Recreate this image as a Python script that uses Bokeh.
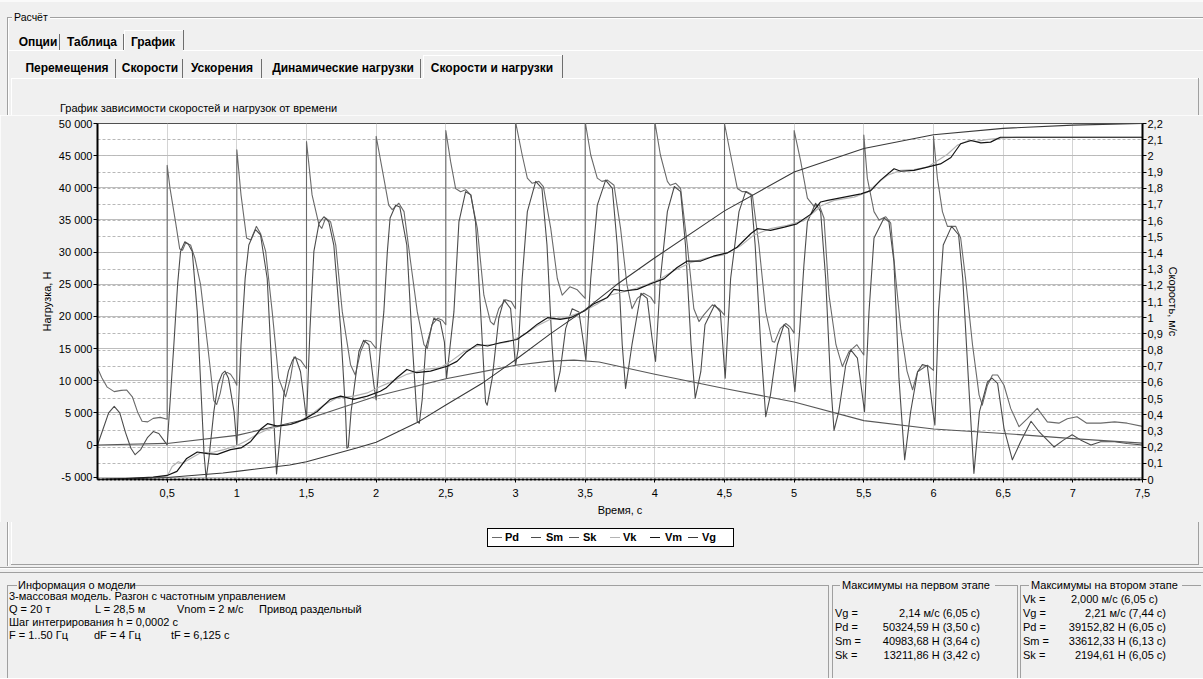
from bokeh.plotting import figure
from bokeh.models import (Range1d, LinearAxis, FixedTicker, Grid, Div)
from bokeh.layouts import column
from bokeh.embed import file_html
from bokeh.resources import INLINE

# ---------------- data ----------------
time_ticks = [0.5, 1, 1.5, 2, 2.5, 3, 3.5, 4, 4.5, 5, 5.5, 6, 6.5, 7, 7.5]
time_labels = ["0,5", "1", "1,5", "2", "2,5", "3", "3,5", "4", "4,5", "5", "5,5", "6", "6,5", "7", "7,5"]
load_ticks = [-5000, 0, 5000, 10000, 15000, 20000, 25000, 30000, 35000, 40000, 45000, 50000]
load_labels = ["-5 000", "0", "5 000", "10 000", "15 000", "20 000", "25 000", "30 000",
               "35 000", "40 000", "45 000", "50 000"]
speed_ticks = [0, 0.1, 0.2, 0.3, 0.4, 0.5, 0.6, 0.7, 0.8, 0.9, 1, 1.1, 1.2, 1.3, 1.4, 1.5,
               1.6, 1.7, 1.8, 1.9, 2, 2.1, 2.2]
speed_labels = ["0", "0,1", "0,2", "0,3", "0,4", "0,5", "0,6", "0,7", "0,8", "0,9", "1", "1,1",
                "1,2", "1,3", "1,4", "1,5", "1,6", "1,7", "1,8", "1,9", "2", "2,1", "2,2"]

# Pd, N
pd_t = [0.0, 0.03, 0.07, 0.12, 0.17, 0.21, 0.25, 0.29, 0.32, 0.36, 0.40, 0.45, 0.5,
        0.5, 0.52, 0.56, 0.59, 0.61, 0.632, 0.668, 0.70, 0.74, 0.79, 0.835, 0.855, 0.88, 0.907, 0.93, 0.955, 0.98, 1.0,
        1.0, 1.03, 1.07, 1.1, 1.14, 1.17, 1.207, 1.254, 1.30, 1.35, 1.385, 1.41, 1.457, 1.5,
        1.5, 1.54, 1.59, 1.61, 1.637, 1.673, 1.71, 1.757, 1.816, 1.85, 1.888, 1.924, 1.96, 2.0,
        2.0, 2.055, 2.09, 2.115, 2.163, 2.2, 2.247, 2.295, 2.343, 2.367, 2.40, 2.44, 2.475, 2.5,
        2.5, 2.534, 2.57, 2.606, 2.642, 2.678, 2.726, 2.773, 2.82, 2.845, 2.88, 2.93, 2.97, 3.0,
        3.0, 3.048, 3.085, 3.12, 3.168, 3.2, 3.253, 3.3, 3.335, 3.39, 3.44, 3.5,
        3.5, 3.54, 3.587, 3.62, 3.66, 3.707, 3.754, 3.8, 3.836, 3.874, 3.92, 3.97, 4.0,
        4.0, 4.04, 4.09, 4.11, 4.15, 4.185, 4.233, 4.28, 4.317, 4.35, 4.413, 4.46, 4.5,
        4.5, 4.544, 4.592, 4.628, 4.66, 4.7, 4.747, 4.796, 4.843, 4.86, 4.9, 4.94, 4.97, 5.0,
        5.0, 5.047, 5.095, 5.142, 5.178, 5.214, 5.25, 5.3, 5.346, 5.393, 5.45, 5.5,
        5.5, 5.525, 5.573, 5.609, 5.657, 5.693, 5.729, 5.765, 5.81, 5.85, 5.886, 5.956, 6.0,
        6.0, 6.028, 6.064, 6.1, 6.16, 6.195, 6.23, 6.28, 6.327, 6.35, 6.387, 6.423, 6.46, 6.506,
        6.554, 6.614, 6.674, 6.745, 6.817, 6.9, 6.96, 7.03, 7.1, 7.2, 7.3, 7.39, 7.5]
pd_v = [12000, 10500, 9000, 8300, 8500, 8550, 7500, 5000, 3700, 3600, 4150, 4300, 4000,
        43500, 40000, 34700, 30500, 30300, 31400, 31100, 29000, 24900, 15600, 6900, 6300, 8000, 10900, 11300, 11000, 10200, 9300,
        45900, 38900, 32200, 31900, 34000, 32900, 30100, 20700, 10400, 7500, 10400, 13700, 13200, 11900,
        47200, 38900, 34200, 33700, 35300, 34700, 31100, 20700, 12500, 10900, 14500, 16300, 16100, 15000,
        48000, 41500, 37300, 36600, 37600, 36300, 28500, 20700, 15600, 15000, 18700, 19700, 19400, 18700,
        48900, 44100, 39900, 39400, 39700, 38900, 33700, 23300, 19200, 18700, 21200, 22600, 22300, 21200,
        50300, 45100, 41500, 40700, 41000, 40200, 33700, 25900, 23300, 24600, 24200, 22800,
        50300, 45100, 41500, 41000, 41200, 40400, 33700, 24900, 21200, 22800, 23600, 23000, 22000,
        50300, 45100, 41000, 40400, 40700, 39900, 31100, 21200, 19200, 20200, 21800, 21200, 20200,
        50000, 45100, 39900, 39400, 39400, 38900, 31100, 20700, 16100, 16000, 18100, 18900, 18400, 17400,
        48900, 44100, 38400, 37100, 37400, 35300, 23300, 15600, 12200, 14500, 15600, 14000,
        48200, 41500, 36300, 35000, 35500, 34500, 25900, 18100, 11500, 8600, 11400, 12400, 11600,
        48000, 41500, 36300, 34000, 34000, 32200, 25900, 15600, 7800, 6200, 9300, 10900, 10900, 9300,
        5700, 2850, 4100, 5700, 3600, 3400, 4100, 4400, 3400, 3400, 3600, 3400, 2900]

# Sm, N
sm_t = [0.0, 0.04, 0.08, 0.12, 0.16, 0.2, 0.24, 0.27, 0.31, 0.36, 0.40, 0.44, 0.48, 0.5,
        0.525, 0.548, 0.575, 0.596, 0.627, 0.65, 0.68, 0.716, 0.75, 0.765, 0.78, 0.80, 0.835, 0.865, 0.895, 0.915, 0.94, 0.98, 1.0,
        1.03, 1.06, 1.086, 1.134, 1.17, 1.218, 1.254, 1.27, 1.285, 1.30, 1.337, 1.37, 1.40, 1.42, 1.457, 1.48, 1.5,
        1.525, 1.553, 1.59, 1.625, 1.66, 1.696, 1.745, 1.78, 1.79, 1.80, 1.82, 1.876, 1.91, 1.948, 1.984, 2.0,
        2.03, 2.055, 2.08, 2.1, 2.14, 2.17, 2.22, 2.26, 2.295, 2.31, 2.33, 2.355, 2.414, 2.46, 2.49, 2.505,
        2.558, 2.594, 2.642, 2.68, 2.713, 2.75, 2.785, 2.797, 2.833, 2.88, 2.917, 2.965, 3.0,
        3.02, 3.048, 3.085, 3.145, 3.19, 3.226, 3.262, 3.286, 3.32, 3.36, 3.407, 3.455, 3.49, 3.505,
        3.54, 3.587, 3.647, 3.695, 3.73, 3.766, 3.79, 3.836, 3.9, 3.945, 3.98, 4.005,
        4.04, 4.09, 4.14, 4.185, 4.22, 4.26, 4.29, 4.33, 4.36, 4.43, 4.47, 4.505,
        4.544, 4.604, 4.652, 4.69, 4.72, 4.76, 4.796, 4.83, 4.88, 4.927, 4.96, 5.005,
        5.04, 5.07, 5.095, 5.154, 5.19, 5.226, 5.26, 5.286, 5.32, 5.37, 5.406, 5.454, 5.505,
        5.537, 5.573, 5.645, 5.68, 5.716, 5.752, 5.793, 5.836, 5.886, 5.92, 5.956, 5.99, 6.01,
        6.036, 6.07, 6.13, 6.18, 6.21, 6.25, 6.29, 6.33, 6.387, 6.42, 6.46, 6.506, 6.566, 6.625,
        6.7, 6.757, 6.865, 6.935, 6.995, 7.055, 7.13, 7.2, 7.3, 7.39, 7.5]
sm_v = [0, 2500, 5000, 6000, 5000, 2000, -500, -1500, -700, 1200, 2100, 1800, 600, 0,
        8000, 15600, 25000, 30100, 31600, 31300, 30100, 20700, 5200, -1500, -5200, -2000, 5200, 9500, 11100, 11500, 10400, 5200, 0,
        15600, 26000, 31100, 33500, 32700, 25900, 10400, 2000, -4500, -1000, 7800, 11500, 13200, 13700, 11400, 7500, 4000,
        18000, 30100, 34500, 35500, 34700, 31100, 18100, 5200, -500, -300, 5200, 14500, 16300, 15600, 9300, 7000,
        15000, 20700, 30000, 35300, 37300, 37000, 31100, 15600, 3600, 3400, 7000, 15000, 19700, 19200, 16000, 10400,
        20700, 34700, 39400, 38900, 34700, 20700, 6700, 6200, 10400, 19700, 22600, 21200, 12400,
        15000, 25900, 36300, 41000, 39900, 31100, 15600, 8300, 11400, 18100, 21200, 20700, 15600, 13200,
        25900, 37300, 41200, 39900, 31100, 15600, 8800, 15600, 23600, 22800, 16600, 13000,
        25900, 36300, 40200, 39400, 31100, 15600, 7300, 11400, 18700, 21800, 20700, 10400,
        25900, 36300, 39400, 38900, 31100, 15600, 4400, 7800, 15600, 18700, 18100, 8300,
        18000, 28000, 34700, 37600, 36300, 25900, 10400, 2300, 5200, 12400, 14800, 13500, 5200,
        20700, 32200, 35300, 34700, 28500, 10400, -2300, 5200, 11400, 12500, 12300, 6200, 3100,
        20700, 31100, 34000, 32700, 25900, 10400, -4400, 5200, 9800, 10400, 9600, 2600, -2300, 500,
        3700, 2100, -300, 800, 1600, 800, 0, 500, 500, 250, 0]

# Sk, N
sk_t = [0.0, 0.5, 1.0, 1.5, 2.0, 2.5, 3.0, 3.25, 3.42, 3.6, 4.0, 4.5, 5.0, 5.5, 6.0, 6.5, 7.0, 7.5]
sk_v = [0, 250, 1500, 4000, 7600, 10300, 12400, 13050, 13200, 12900, 11000, 8800, 6700, 3800,
        2500, 1800, 1000, 300]

# Vk, m/s
vk_t = [0.0, 0.3, 0.5, 0.536, 0.58, 0.608, 0.668, 0.74, 0.835, 0.907, 1.0, 1.07, 1.146, 1.22,
        1.31, 1.43, 1.53, 1.625, 1.72, 1.84, 1.936, 2.03, 2.1, 2.22, 2.34, 2.46, 2.535, 2.63,
        2.725, 2.845, 2.965, 3.06, 3.157, 3.25, 3.36, 3.49, 3.587, 3.68, 3.8, 3.92, 4.04, 4.135,
        4.257, 4.377, 4.5, 4.616, 4.71, 4.83, 4.95, 5.07, 5.167, 5.19, 5.286, 5.43, 5.525, 5.597,
        5.67, 5.765, 5.86, 5.956, 6.028, 6.1, 6.17, 6.25, 6.31, 6.38, 6.48, 6.6, 7.5]
vk_v = [0.0, 0.005, 0.02, 0.08, 0.11, 0.10, 0.13, 0.165, 0.17, 0.185, 0.21, 0.24, 0.28, 0.31,
        0.33, 0.35, 0.40, 0.46, 0.505, 0.515, 0.535, 0.575, 0.60, 0.65, 0.68, 0.69, 0.73, 0.79,
        0.825, 0.835, 0.855, 0.895, 0.95, 0.99, 1.0, 1.04, 1.085, 1.14, 1.165, 1.195, 1.24, 1.29,
        1.34, 1.37, 1.39, 1.445, 1.51, 1.55, 1.57, 1.60, 1.67, 1.69, 1.725, 1.745, 1.775, 1.83,
        1.88, 1.91, 1.915, 1.93, 1.97, 2.01, 2.065, 2.095, 2.09, 2.10, 2.11, 2.115, 2.115]

# Vm, m/s
vm_t = [0.0, 0.2, 0.4, 0.5, 0.57, 0.64, 0.716, 0.79, 0.86, 0.955, 1.03, 1.1, 1.17, 1.22, 1.29,
        1.385, 1.48, 1.577, 1.67, 1.745, 1.84, 1.936, 2.03, 2.07, 2.15, 2.22, 2.29, 2.39, 2.51,
        2.58, 2.65, 2.725, 2.8, 2.89, 3.01, 3.085, 3.157, 3.23, 3.32, 3.395, 3.49, 3.56, 3.66,
        3.706, 3.78, 3.874, 3.97, 4.065, 4.16, 4.233, 4.33, 4.42, 4.52, 4.59, 4.69, 4.736, 4.83,
        4.93, 5.02, 5.12, 5.19, 5.24, 5.36, 5.48, 5.55, 5.62, 5.717, 5.765, 5.86, 5.956, 6.05,
        6.125, 6.195, 6.27, 6.34, 6.41, 6.48, 6.6, 7.0, 7.5]
vm_v = [0.0, 0.005, 0.015, 0.025, 0.05, 0.13, 0.17, 0.16, 0.155, 0.185, 0.195, 0.235, 0.31,
        0.345, 0.33, 0.34, 0.37, 0.42, 0.495, 0.515, 0.495, 0.515, 0.545, 0.565, 0.63, 0.68,
        0.66, 0.67, 0.70, 0.73, 0.79, 0.835, 0.825, 0.845, 0.865, 0.91, 0.96, 1.0, 0.99, 1.0,
        1.04, 1.085, 1.125, 1.175, 1.165, 1.175, 1.21, 1.24, 1.31, 1.35, 1.35, 1.38, 1.40, 1.435,
        1.52, 1.55, 1.54, 1.56, 1.58, 1.64, 1.715, 1.725, 1.745, 1.765, 1.785, 1.85, 1.92, 1.905,
        1.91, 1.93, 1.95, 1.99, 2.075, 2.095, 2.08, 2.085, 2.115, 2.115, 2.115, 2.115]

# Vg, m/s
vg_t = [0.0, 0.5, 0.9, 1.0, 1.38, 1.5, 1.86, 2.0, 2.29, 2.5, 2.77, 3.0, 3.25, 3.5, 3.72, 4.0,
        4.5, 5.0, 5.5, 6.0, 6.5, 7.0, 7.5]
vg_v = [0.0, 0.012, 0.04, 0.05, 0.09, 0.11, 0.195, 0.23, 0.35, 0.46, 0.60, 0.74, 0.90, 1.05,
        1.20, 1.37, 1.66, 1.90, 2.045, 2.13, 2.17, 2.19, 2.20]

series_names = ["Pd", "Sm", "Sk", "Vk", "Vm", "Vg"]
series_colors = ["#6a6a6a", "#4c4c4c", "#585858", "#b4b4b4", "#141414", "#3a3a3a"]

# ---------------- geometry (page pixels; the page has no body margin) ----------------
FONT = "Liberation Sans"
BG = "#f0f0f0"
DARK, LIGHT, SEP = "#a0a0a0", "#ffffff", "#6e6e6e"
W = 1203
TOP_H = 115                  # top chrome strip: y 0..115
CH_Y1 = 522                  # chart figure: y 115..522
BOT_H = 156                  # bottom chrome strip: y 522..678
FL, FT, FR, FB = 97, 123, 1142, 479   # chart frame


class Html:
    def __init__(self, y0, h):
        self.y0, self.h, self.parts = y0, h, []

    def rect(self, x0, y0, x1, y1, c, extra=""):
        self.parts.append(
            f'<div style="position:absolute;left:{x0}px;top:{y0 - self.y0}px;width:{x1 - x0}px;'
            f'height:{y1 - y0}px;background:{c};{extra}"></div>')

    def h_(self, x0, x1, y, c=DARK):
        self.rect(x0, y, x1, y + 1, c)

    def v_(self, x, y0, y1, c=DARK):
        self.rect(x, y0, x + 1, y1, c)

    def text(self, x, y, s, size=11, bold=False, align="left"):
        lh = 14
        top = y - self.y0 - lh / 2
        wt = "bold" if bold else "normal"
        if align == "left":
            pos = f"left:{x}px;"
        elif align == "right":
            pos = f"left:{x - 300}px;width:300px;text-align:right;"
        else:
            pos = f"left:{x - 150}px;width:300px;text-align:center;"
        self.parts.append(
            f'<div style="position:absolute;{pos}top:{top}px;line-height:{lh}px;font-size:{size}px;'
            f'font-weight:{wt};white-space:nowrap">{s}</div>')

    def div(self):
        html = (f'<div style="position:relative;width:{W}px;height:{self.h}px;background:{BG};'
                f"font-family:'{FONT}',Arial,sans-serif;color:#000;overflow:hidden;margin:0;padding:0\">"
                + "".join(self.parts) + "</div>")
        return Div(text=html, width=W, height=self.h, margin=0)


# ---- top chrome ----
tc = Html(0, TOP_H)
tc.h_(0, 1203, 0, "#fafafa"); tc.h_(0, 1203, 1, "#fafafa")
tc.h_(8, 12, 17); tc.h_(8, 12, 18, LIGHT)
tc.h_(50, 1203, 17); tc.h_(50, 1203, 18, LIGHT)
tc.v_(7, 17, 115); tc.v_(8, 18, 115, LIGHT)
tc.h_(8, 124, 50, LIGHT); tc.h_(183, 1203, 50, LIGHT)
tc.h_(124, 183, 30, LIGHT); tc.v_(124, 30, 50, LIGHT); tc.v_(183, 30, 50, SEP)
tc.v_(59, 34, 50, SEP); tc.v_(123, 34, 50, SEP)
tc.h_(11, 423, 78, LIGHT); tc.h_(562, 1200, 78, LIGHT)
tc.h_(423, 562, 55, LIGHT); tc.v_(423, 55, 78, LIGHT); tc.v_(562, 55, 78, SEP)
for xs in (115, 182, 261, 420):
    tc.v_(xs, 59, 78, SEP)
tc.v_(11, 78, 115, LIGHT); tc.v_(1198, 78, 115, DARK)
tc.text(14, 17, "Расчёт", size=10.5)
for cx, s in ((38, "Опции"), (92, "Таблица"), (153, "График")):
    tc.text(cx, 42, s, size=12, bold=True, align="center")
for cx, s in ((67, "Перемещения"), (150, "Скорости"), (222, "Ускорения"),
              (343, "Динамические нагрузки"), (492, "Скорости и нагрузки")):
    tc.text(cx, 68, s, size=12, bold=True, align="center")
tc.text(60, 108, "График зависимости скоростей и нагрузок от времени")

# ---- chart ----
p = figure(frame_width=FR - FL, frame_height=FB - FT,
           min_border_left=FL, min_border_right=W - FR,
           min_border_top=FT - TOP_H, min_border_bottom=CH_Y1 - FB,
           x_range=Range1d(0, 7.5), y_range=Range1d(-5360, 50000),
           output_backend="svg", toolbar_location=None, margin=0,
           background_fill_color="white", border_fill_color=BG,
           outline_line_color="#505050", outline_line_width=1)
p.extra_y_ranges = {"v": Range1d(0, 2.2)}

xa = p.below[0]
xa.ticker = FixedTicker(ticks=time_ticks)
xa.major_label_overrides = dict(zip(time_ticks, time_labels))
xa.axis_label = "Время, с"
xa.axis_line_color = "black"
xa.axis_line_width = 2
xa.axis_line_dash = "3 1"
xa.major_tick_out = 3
xa.major_tick_in = 0
xa.major_label_standoff = 6
xa.axis_label_standoff = 4

ya = p.left[0]
ya.ticker = FixedTicker(ticks=load_ticks)
ya.major_label_overrides = dict(zip(load_ticks, load_labels))
ya.axis_label = "Нагрузка, Н"
ya.axis_line_color = "black"
ya.axis_line_width = 2
ya.major_tick_out = 4
ya.major_tick_in = 0
ya.major_label_standoff = 1
ya.axis_label_standoff = 3

ra = LinearAxis(y_range_name="v", ticker=FixedTicker(ticks=speed_ticks))
ra.major_label_overrides = dict(zip(speed_ticks, speed_labels))
ra.axis_label = "Скорость, м/с"
ra.axis_line_color = "black"
ra.axis_line_width = 2
ra.major_tick_out = 4
ra.major_tick_in = 0
ra.major_label_standoff = 1
ra.axis_label_standoff = 1
p.add_layout(ra, "right")

for ax in (xa, ya, ra):
    ax.minor_tick_out = 0
    ax.minor_tick_in = 0
    ax.major_tick_line_color = "black"
    ax.major_label_text_font = FONT
    ax.major_label_text_font_size = "11px"
    ax.major_label_text_color = "black"
    ax.axis_label_text_font = FONT
    ax.axis_label_text_font_size = "11px"
    ax.axis_label_text_font_style = "normal"
    ax.axis_label_text_color = "black"

p.xgrid.ticker = FixedTicker(ticks=time_ticks)
p.xgrid.grid_line_color = "#d4d4d4"
p.ygrid.ticker = FixedTicker(ticks=load_ticks)
p.ygrid.grid_line_color = "#bdbdbd"
p.add_layout(Grid(dimension=1, ticker=FixedTicker(ticks=speed_ticks), y_range_name="v",
                  grid_line_color="#b8b8b8", grid_line_dash="3 2"))

p.line(pd_t, pd_v, line_color=series_colors[0], line_width=1.1, line_join="round")
p.line(sm_t, sm_v, line_color=series_colors[1], line_width=1.1, line_join="round")
p.line(sk_t, sk_v, line_color=series_colors[2], line_width=1.1, line_join="round")
p.line(vk_t, vk_v, line_color=series_colors[3], line_width=1.2, y_range_name="v", line_join="round")
p.line(vm_t, vm_v, line_color=series_colors[4], line_width=1.2, y_range_name="v", line_join="round")
p.line(vg_t, vg_v, line_color=series_colors[5], line_width=1.1, y_range_name="v", line_join="round")

# ---- bottom chrome (legend, splitter, information panels) ----
bc = Html(CH_Y1, BOT_H)
bc.rect(487, 528, 734, 547, "#ffffff", "box-sizing:border-box;border:1px solid #000")
legend_dash_x = [492, 531, 569, 610, 650, 688]
legend_text_x = [505, 546, 583, 623, 665, 702]
for dx, tx, name, col in zip(legend_dash_x, legend_text_x, series_names, series_colors):
    bc.h_(dx, dx + 10, 537, col)
    bc.text(tx, 537, name, bold=True)

bc.v_(7, 522, 566); bc.v_(8, 522, 566, LIGHT)
bc.v_(11, 522, 564, LIGHT); bc.v_(1198, 522, 565, DARK)
bc.h_(11, 1199, 564, DARK)
bc.h_(0, 1203, 567, DARK); bc.h_(0, 1203, 568, LIGHT); bc.h_(0, 1203, 572, DARK)
bc.h_(7, 17, 585); bc.h_(128, 828, 585)
bc.v_(7, 585, 680); bc.v_(828, 585, 680)
bc.h_(832, 840, 585); bc.h_(995, 1017, 585)
bc.v_(832, 585, 680); bc.v_(1017, 585, 680)
bc.h_(1020, 1029, 585); bc.h_(1182, 1201, 585)
bc.v_(1020, 585, 680)

info_lines = [(18, 585, "Информация о модели"),
              (9, 596, "3-массовая модель. Разгон с частотным управлением"),
              (9, 609, "Q = 20 т"), (95, 609, "L = 28,5 м"), (177, 609, "Vnom = 2 м/с"),
              (259, 609, "Привод раздельный"),
              (9, 622, "Шаг интегрирования h = 0,0002 с"),
              (9, 635, "F = 1..50 Гц"), (94, 635, "dF = 4 Гц"), (171, 635, "tF = 6,125 с")]
for x, y, s in info_lines:
    bc.text(x, y, s)

stage1_names = ["Vg =", "Pd =", "Sm =", "Sk ="]
stage1_values = ["2,14 м/с (6,05 с)", "50324,59 Н (3,50 с)", "40983,68 Н (3,64 с)",
                 "13211,86 Н (3,42 с)"]
stage2_names = ["Vk =", "Vg =", "Pd =", "Sm =", "Sk ="]
stage2_values = ["2,000 м/с (6,05 с)", "2,21 м/с (7,44 с)", "39152,82 Н (6,05 с)",
                 "33612,33 Н (6,13 с)", "2194,61 Н (6,05 с)"]
rows1 = [613, 627, 641, 655]
rows2 = [599, 613, 627, 641, 655]
bc.text(842, 585, "Максимумы на первом этапе")
bc.text(1031, 585, "Максимумы на втором этапе")
for y, a, b in zip(rows1, stage1_names, stage1_values):
    bc.text(835, y, a)
    bc.text(980, y, b, align="right")
for i, (y, a, b) in enumerate(zip(rows2, stage2_names, stage2_values)):
    bc.text(1023, y, a)
    bc.text(1158 if i == 0 else 1166, y, b, align="right")

layout = column(tc.div(), p, bc.div(), spacing=0, margin=0)
open("out.html", "w").write(file_html(layout, INLINE))
